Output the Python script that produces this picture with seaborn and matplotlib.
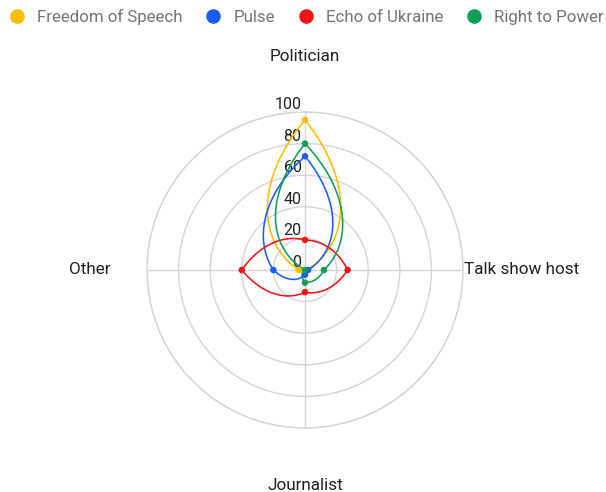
import numpy as np
import pandas as pd
import matplotlib
matplotlib.use("Agg")
import matplotlib.pyplot as plt
from matplotlib.lines import Line2D
import seaborn as sns

# ---- data ----
categories = ["Politician", "Talk show host", "Journalist", "Other"]
series_names = ["Freedom of Speech", "Pulse", "Echo of Ukraine", "Right to Power"]
freedom_of_speech = [95, 1, 1, 4]
pulse = [72, 2, 3, 20]
echo_of_ukraine = [19, 27, 14, 40]
right_to_power = [80, 12, 8, 0]
radial_ticks = [0, 20, 40, 60, 80, 100]

colors = ["#FBBC04", "#1A5CFF", "#F01414", "#0F9D58"]
values = [freedom_of_speech, pulse, echo_of_ukraine, right_to_power]

rows = []
for name, vals in zip(series_names, values):
    for i, (cat, v) in enumerate(zip(categories, vals)):
        rows.append({"series": name, "category": cat, "idx": i, "value": v})
df = pd.DataFrame(rows)
n_cat = len(categories)
df["theta"] = df["idx"] * 2 * np.pi / n_cat


def smooth_closed(vals, n=80):
    """Closed curve: cubic Bezier per segment with control points placed in polar space."""
    k = len(vals)
    step = 2 * np.pi / k
    pieces = []
    for i in range(k):
        j = (i + 1) % k
        a0 = i * step
        r0, r1 = vals[i], vals[j]
        ctrl = []
        for f in (0.0, 1 / 3, 2 / 3, 1.0):
            a = a0 + step * f
            r = r0 + (r1 - r0) * f
            ctrl.append([r * np.sin(a), r * np.cos(a)])
        P = np.array(ctrl)
        t = np.linspace(0, 1, n, endpoint=(i == k - 1))[:, None]
        B = ((1 - t) ** 3) * P[0] + 3 * (1 - t) ** 2 * t * P[1] + 3 * (1 - t) * t ** 2 * P[2] + t ** 3 * P[3]
        pieces.append(B)
    pts = np.vstack(pieces)
    theta = np.unwrap(np.arctan2(pts[:, 0], pts[:, 1]))
    r = np.hypot(pts[:, 0], pts[:, 1])
    return theta, r


curves = []
for name in series_names:
    vals = df[df["series"] == name].sort_values("idx")["value"].tolist()
    th, rr = smooth_closed(vals)
    curves.append(pd.DataFrame({"series": name, "theta": th, "r": rr, "order": np.arange(len(th))}))
curve_df = pd.concat(curves, ignore_index=True)

sns.set_theme(style="white")
plt.rcParams["font.family"] = ["Roboto", "DejaVu Sans"]

W, H = 606, 492
fig = plt.figure(figsize=(W / 100, H / 100), dpi=100)
cx, cy, R = 305, 270, 158
ax = fig.add_axes([(cx - R) / W, (H - cy - R) / H, 2 * R / W, 2 * R / H], projection="polar")
ax.set_theta_zero_location("N")
ax.set_theta_direction(-1)
ax.set_ylim(0, 100)
ax.set_facecolor("white")

grid_col = "#D5D5D5"
ax.set_rgrids([20, 40, 60, 80, 100])
ax.set_thetagrids(np.degrees(np.arange(n_cat) * 2 * np.pi / n_cat))
ax.set_xticklabels([])
ax.set_yticklabels([])
ax.grid(True, color=grid_col, linewidth=1.0)
ax.spines["polar"].set_color(grid_col)
ax.spines["polar"].set_linewidth(1.0)
ax.tick_params(length=0)

palette = dict(zip(series_names, colors))
for name in series_names:
    sub = curve_df[curve_df["series"] == name]
    sns.lineplot(data=sub, x="theta", y="r", sort=False, estimator=None,
                 color=palette[name], linewidth=1.15, ax=ax, legend=False, zorder=3)
for name in series_names:
    sub = df[df["series"] == name]
    sns.scatterplot(data=sub, x="theta", y="value", color=palette[name], s=22,
                    edgecolor="none", ax=ax, legend=False, zorder=4)
ax.set_xlabel("")
ax.set_ylabel("")
ax.set_ylim(0, 100)

# radial tick labels
for v in radial_ticks:
    ax.annotate(str(v), xy=(0, v), xytext=(-2.5, 2.2), textcoords="offset points",
                ha="right", va="baseline", fontsize=11.5, color="#222222", zorder=2)

# category labels
label_pos = [(135.4, "center", "center"), (100.6, "left", "center"),
             (136.7, "center", "center"), (123.4, "right", "center")]
for i, (cat, (rpos, ha, va)) in enumerate(zip(categories, label_pos)):
    ax.text(i * 2 * np.pi / n_cat, rpos, cat, ha=ha, va=va, fontsize=12.3,
            color="#212121", clip_on=False)

handles = [Line2D([], [], marker="o", linestyle="", markersize=10.5, markeredgewidth=0,
                  color=c) for c in colors]
fig.legend(handles, series_names, loc="center left", bbox_to_anchor=(8.5 / W, 1 - 17 / H),
           ncol=4, frameon=False, fontsize=12.2, labelcolor="#757575",
           handlelength=1.0, handletextpad=0.68, columnspacing=1.32,
           borderpad=0, borderaxespad=0)

fig.savefig("out.png", dpi=100)
